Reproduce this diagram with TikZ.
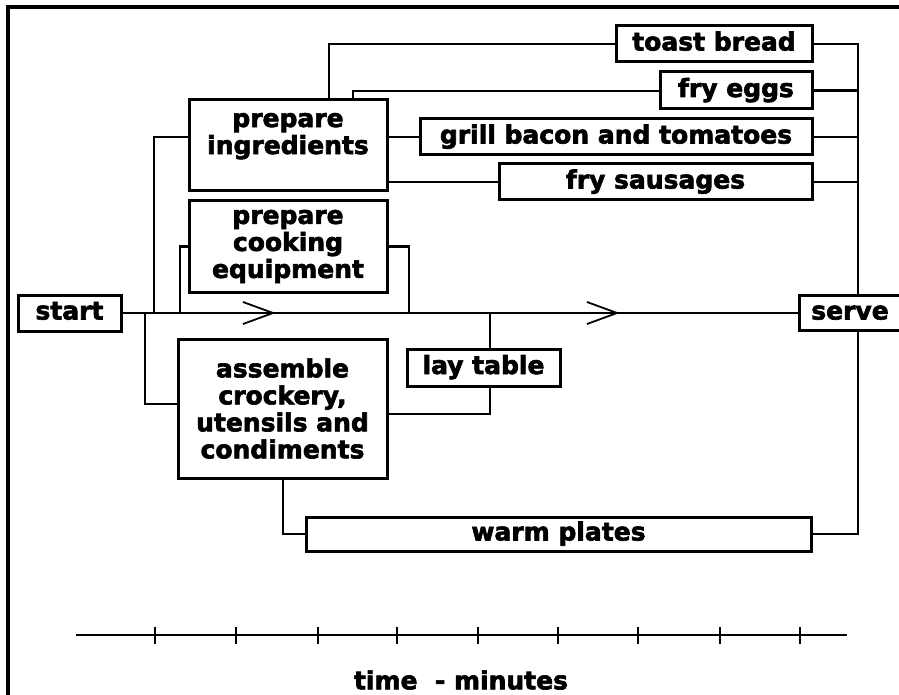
\documentclass[tikz,border=0pt]{standalone}
\usepackage{fontspec}
\setmainfont{DejaVu Sans}[BoldFeatures={FakeBold=2.5}]
\begin{document}
\begin{tikzpicture}[x=1pt,y=-1pt,line width=2.6pt,
    box/.style={draw,line width=3pt,align=center,inner sep=2pt,
      font=\bfseries\fontsize{25}{27}\selectfont},
    onebox/.style={box,text height=18pt,text depth=5pt}]
    \useasboundingbox (0,0) rectangle (899,695);
    \draw[line width=4.5pt] (8,7) rectangle (930,730);
    % tasks
    \node[onebox,minimum width=103pt,minimum height=36pt] (start) at (69.5,313) {start};
    \node[box,minimum width=198pt,minimum height=91pt] (ingred) at (288,145.5) {prepare\\ingredients\\[-3pt]~};
    \node[box,minimum width=198pt,minimum height=91pt] (equip) at (288,246.5) {prepare\\cooking\\equipment};
    \node[box,minimum width=209pt,minimum height=139pt] (assem) at (282.5,408.5) {assemble\\crockery,\\utensils and\\condiments};
    \node[onebox,minimum width=153pt,minimum height=37pt] (lay) at (483.5,367.5) {lay table};
    \node[onebox,minimum width=196pt,minimum height=36pt] (toast) at (714,44) {toast bread};
    \node[onebox,minimum width=152pt,minimum height=37pt] (eggs) at (736,90.5) {fry eggs};
    \node[onebox,minimum width=392pt,minimum height=36pt] (grill) at (616,137) {grill bacon and tomatoes};
    \node[onebox,minimum width=313pt,minimum height=36pt] (saus) at (655.5,182) {fry sausages};
    \node[onebox,minimum width=505pt,minimum height=34pt] (warm) at (558.5,534) {warm plates};
    \node[onebox,minimum width=102pt,minimum height=35pt] (serve) at (850,313) {serve};
    % junctions
    \coordinate (jA) at (145,313);
    \coordinate (jB) at (154,313);
    \coordinate (jC) at (180,313);
    \coordinate (jD) at (409,313);
    \coordinate (jE) at (490,313);
    \coordinate (jR) at (858,0);
    % connectors
    \draw[line width=2pt] (start) -- (serve);
    \foreach \x in {258,602}
    \draw[line width=1.8pt] (\x-15,302)--(\x+15,313)--(\x-15,324);
    \draw (jB) |- ([yshift=8.5pt]ingred.west);
    \draw (jC) |- (equip.west);
    \draw (equip.east) -| (jD);
    \draw (jA) |- ([yshift=4.5pt]assem.west);
    \draw ([yshift=-5.5pt]assem.east) -| ([xshift=6.5pt]lay.south);
    \draw ([xshift=6.5pt]lay.north) -- (jE);
    \draw ([xshift=41pt]ingred.north) |- (toast.west);
    \draw ([xshift=65pt]ingred.north) |- ([yshift=-0.5pt]eggs.west);
    \draw ([yshift=8.5pt]ingred.east) -- (grill.west);
    \draw ([yshift=-36.5pt]ingred.east) -- (saus.west);
    \draw (toast.east) -| ([xshift=8pt]serve.north);
    \foreach \n in {eggs,grill,saus}
    \draw (\n.east) -- (\n.east -| jR);
    \draw ([xshift=0.5pt]assem.south) |- (warm.west);
    \draw (warm.east) -| ([xshift=8pt]serve.south);
    % time axis
    \draw[line width=2.6pt] (76,635) -- (847,635);
    \foreach \t in {155,236,318,397,478,558,638,720,800}
    \draw[line width=1.3pt] (\t,627)--(\t,644);
    \node[inner sep=0pt,font=\bfseries\fontsize{25}{27}\selectfont] (axis) at (461,680) {time~ - minutes};
\end{tikzpicture}
\end{document}
